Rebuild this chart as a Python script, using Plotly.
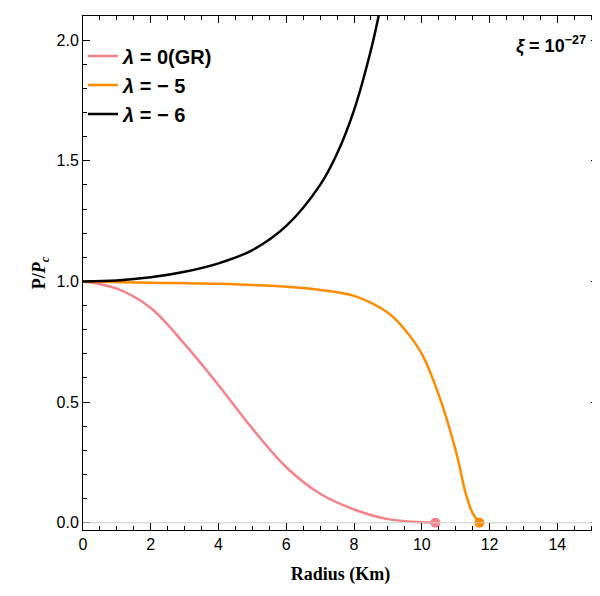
import plotly.graph_objects as go

gr_x = [0, 1, 2, 3, 4, 5, 6, 7, 8, 9, 10, 10.4]
gr_y = [1, 0.97, 0.89, 0.74, 0.57, 0.39, 0.23, 0.12, 0.055, 0.015, 0.002, 0]
l5_x = [0, 2, 4, 6, 7, 8, 9, 9.5, 10, 10.5, 11, 11.3, 11.5, 11.7]
l5_y = [1, 0.995, 0.99, 0.978, 0.965, 0.94, 0.87, 0.8, 0.7, 0.53, 0.3, 0.12, 0.04, 0]
l6_x = [0, 1, 2, 3, 4, 5, 6, 7, 7.5, 8, 8.5, 8.8]
l6_y = [1, 1.004, 1.017, 1.04, 1.075, 1.13, 1.23, 1.40, 1.53, 1.71, 1.96, 2.15]

fig = go.Figure()
fig.add_hline(y=0, line=dict(color="#cccccc", width=1))
fig.add_trace(go.Scatter(x=gr_x, y=gr_y, mode="lines", line=dict(color="#f7828a", width=2.5, shape="spline"),
                         name="<b><i>λ</i> = 0(GR)</b>"))
fig.add_trace(go.Scatter(x=l5_x, y=l5_y, mode="lines", line=dict(color="#ff8c00", width=2.5, shape="spline"),
                         name="<b><i>λ</i> = − 5</b>"))
fig.add_trace(go.Scatter(x=l6_x, y=l6_y, mode="lines", line=dict(color="black", width=2.5, shape="spline"),
                         name="<b><i>λ</i> = − 6</b>"))
fig.add_trace(go.Scatter(x=[gr_x[-1]], y=[0], mode="markers", marker=dict(color="#f7828a", size=10), showlegend=False))
fig.add_trace(go.Scatter(x=[l5_x[-1]], y=[0], mode="markers", marker=dict(color="#ff8c00", size=10), showlegend=False))

ax = dict(showline=True, linecolor="black", linewidth=1, mirror="ticks", ticks="inside", ticklen=7,
          tickcolor="black", showgrid=False, zeroline=False, automargin=False,
          minor=dict(ticks="inside", ticklen=4, tickcolor="black"),
          tickfont=dict(family="Liberation Sans", size=16, color="black"))
fig.update_xaxes(**ax, range=[0, 15.2], dtick=2, minor_dtick=0.5,
                 title=dict(text="<b>Radius (Km)</b>", font=dict(family="Liberation Serif", size=18, color="black")))
fig.update_yaxes(**ax, range=[-0.03, 2.1], tickvals=[0, 0.5, 1, 1.5, 2], ticktext=["0.0", "0.5", "1.0", "1.5", "2.0"],
                 minor_dtick=0.1,
                 title=dict(text="<b>P/<i>P</i><sub><i>c</i></sub></b>", font=dict(family="Liberation Serif", size=18, color="black"), standoff=6))
fig.add_annotation(x=0.98, y=0.97, xref="paper", yref="paper", xanchor="right", yanchor="top", showarrow=False,
                   text="<b><i>ξ</i> = 10<sup>−27</sup></b>", font=dict(family="Liberation Sans", size=18, color="black"))
fig.update_layout(width=600, height=596, plot_bgcolor="white", paper_bgcolor="white",
                  margin=dict(l=75, r=10, t=8, b=74),
                  legend=dict(x=0.0, y=0.96, xanchor="left", yanchor="top", bgcolor="rgba(0,0,0,0)",
                              font=dict(family="Liberation Sans", size=20, color="black"), tracegroupgap=22))
fig.write_html("out.html")
